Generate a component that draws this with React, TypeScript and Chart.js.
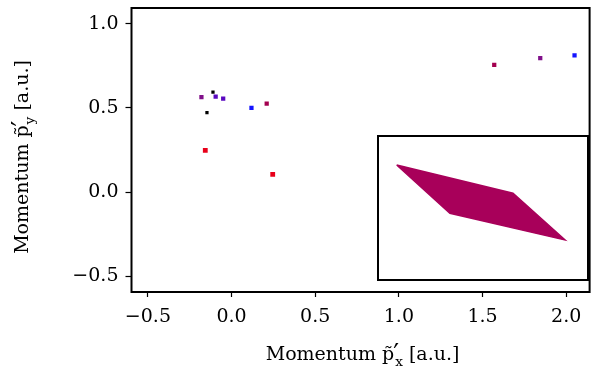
import React, { useEffect, useRef } from 'react';
import { Chart, registerables } from 'chart.js';

Chart.register(...registerables);

// ---- data ----
const redX = [-0.157, 0.246];
const redY = [0.248, 0.105];
const crimsonX = [0.21, 1.57];
const crimsonY = [0.526, 0.756];
const purpleX = [-0.18, 1.845];
const purpleY = [0.565, 0.796];
const indigoX = [-0.095, -0.05];
const indigoY = [0.567, 0.555];
const blueX = [0.119, 2.05];
const blueY = [0.5, 0.813];
const blackX = [-0.111, -0.147];
const blackY = [0.595, 0.472];

const xTicks = [-0.5, 0.0, 0.5, 1.0, 1.5, 2.0];
const yTicks = [-0.5, 0.0, 0.5, 1.0];

// inset distribution outline (normalised inset coordinates)
const insetX = [0.085, 0.644, 0.894, 0.341, 0.085];
const insetY = [0.803, 0.604, 0.275, 0.463, 0.803];

const xTitleMain = 'Momentum p\u0303';
const yTitleMain = 'Momentum p\u0303';
const titlePrime = '\u2032';
const xTitleSub = 'x';
const yTitleSub = 'y';
const titleTail = ' [a.u.]';

const FONT = '"DejaVu Serif", "Liberation Serif", serif';
const FS = 19;

const pts = (xs: number[], ys: number[]) => xs.map((x, i) => ({ x, y: ys[i] }));
const fmt = (v: number) => (v < 0 ? '\u2212' + Math.abs(v).toFixed(1) : v.toFixed(1));

function drawTitle(ctx: CanvasRenderingContext2D, cx: number, cy: number, rot: number, main: string, sub: string) {
  ctx.save();
  ctx.translate(cx, cy);
  ctx.rotate(rot);
  ctx.fillStyle = '#000';
  ctx.textBaseline = 'alphabetic';
  ctx.textAlign = 'left';
  const big = `${FS}px ${FONT}`;
  const small = `${FS * 0.72}px ${FONT}`;
  const primeFont = `${FS * 1.35}px ${FONT}`;
  ctx.font = big;
  const wMain = ctx.measureText(main + ' ').width - ctx.measureText(' ').width;
  const wTail = ctx.measureText(titleTail).width;
  ctx.font = primeFont;
  const wPrime = ctx.measureText(titlePrime).width * 0.7;
  ctx.font = small;
  const wSub = ctx.measureText(sub).width;
  const wMid = Math.max(wPrime, wSub) + 1;
  const total = wMain + wMid + wTail;
  let x = -total / 2;
  ctx.font = big;
  ctx.fillText(main, x, 0);
  x += wMain;
  ctx.font = primeFont;
  ctx.fillText(titlePrime, x - 1, FS * 0.08);
  ctx.font = small;
  ctx.fillText(sub, x + 1, FS * 0.3);
  x += wMid;
  ctx.font = big;
  ctx.fillText(titleTail, x, 0);
  ctx.restore();
}

const framePlugin = {
  id: 'frameAndTitles',
  afterDraw(chart: any) {
    const { ctx, chartArea } = chart;
    ctx.save();
    ctx.strokeStyle = '#000';
    ctx.lineWidth = 2;
    ctx.strokeRect(chartArea.left, chartArea.top, chartArea.right - chartArea.left, chartArea.bottom - chartArea.top);
    ctx.restore();
    const cxMid = (chartArea.left + chartArea.right) / 2;
    const cyMid = (chartArea.top + chartArea.bottom) / 2;
    drawTitle(ctx, cxMid + 2, 360, 0, xTitleMain, xTitleSub);
    drawTitle(ctx, 28, cyMid + 7, -Math.PI / 2, yTitleMain, yTitleSub);
  },
};

export default function App() {
  const mainRef = useRef<HTMLCanvasElement>(null);
  const insetRef = useRef<HTMLCanvasElement>(null);

  useEffect(() => {
    document.body.style.margin = '0';
    const mk = (label: string, xs: number[], ys: number[], color: string, r: number) => ({
      label,
      data: pts(xs, ys),
      backgroundColor: color,
      borderColor: color,
      borderWidth: 0,
      pointStyle: 'rect',
      pointRadius: r,
      pointHoverRadius: r,
    });
    const main = new Chart(mainRef.current!, {
      type: 'scatter',
      data: {
        datasets: [
          mk('red', redX, redY, '#e8001a', 3.4),
          mk('crimson', crimsonX, crimsonY, '#a3004f', 3.0),
          mk('purple', purpleX, purpleY, '#80108a', 3.0),
          mk('indigo', indigoX, indigoY, '#5a08c0', 3.0),
          mk('blue', blueX, blueY, '#1414ff', 3.0),
          mk('black', blackX, blackY, '#000000', 2.3),
        ],
      },
      options: {
        animation: false,
        responsive: false,
        layout: { padding: { top: 8, right: 1.5, left: 0, bottom: 0 } },
        plugins: { legend: { display: false }, tooltip: { enabled: false } },
        scales: {
          x: {
            type: 'linear',
            min: -0.598,
            max: 2.14,
            afterFit: (s: any) => { s.height = 79; s.paddingLeft = 0; s.paddingRight = 0; },
            afterBuildTicks: (s: any) => { s.ticks = xTicks.map((v) => ({ value: v })); },
            grid: { drawOnChartArea: false, drawTicks: true, tickLength: 5, tickColor: '#000', tickWidth: 1.2 },
            border: { display: false },
            ticks: { color: '#000', font: { family: FONT, size: FS }, padding: 9, maxRotation: 0, autoSkip: false, callback: (v: any) => fmt(Number(v)) },
          },
          y: {
            type: 'linear',
            min: -0.595,
            max: 1.095,
            afterFit: (s: any) => { s.width = 131.5; s.paddingTop = 0; s.paddingBottom = 0; },
            afterBuildTicks: (s: any) => { s.ticks = yTicks.map((v) => ({ value: v })); },
            grid: { drawOnChartArea: false, drawTicks: true, tickLength: 6, tickColor: '#000', tickWidth: 1.2 },
            border: { display: false },
            ticks: { color: '#000', font: { family: FONT, size: FS }, padding: 7, autoSkip: false, callback: (v: any) => fmt(Number(v)) },
          },
        },
      } as any,
      plugins: [framePlugin],
    });

    const inset = new Chart(insetRef.current!, {
      type: 'scatter',
      data: {
        datasets: [
          {
            label: 'distribution',
            data: pts(insetX, insetY),
            showLine: true,
            fill: 'shape',
            backgroundColor: '#a8005a',
            borderColor: '#a8005a',
            borderWidth: 1.5,
            pointRadius: 0,
            tension: 0,
          },
        ],
      },
      options: {
        animation: false,
        responsive: false,
        layout: { padding: 0 },
        plugins: { legend: { display: false }, tooltip: { enabled: false } },
        scales: {
          x: { type: 'linear', min: 0, max: 1, display: false },
          y: { type: 'linear', min: 0, max: 1, display: false },
        },
      } as any,
    });

    return () => {
      main.destroy();
      inset.destroy();
    };
  }, []);

  return (
    <div style={{ position: 'relative', width: 593, height: 371, background: '#fff' }}>
      <canvas ref={mainRef} width={593} height={371} style={{ position: 'absolute', left: 0, top: 0 }} />
      <div
        style={{
          position: 'absolute',
          left: 377,
          top: 135,
          width: 212,
          height: 146,
          border: '2px solid #000',
          boxSizing: 'border-box',
          background: '#fff',
        }}
      >
        <canvas ref={insetRef} width={208} height={142} style={{ display: 'block' }} />
      </div>
    </div>
  );
}
